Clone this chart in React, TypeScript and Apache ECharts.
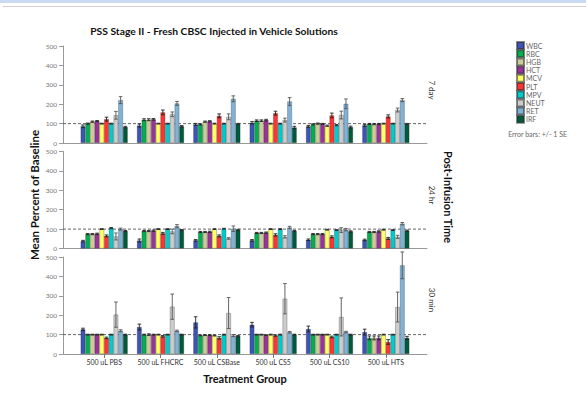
import React, { useEffect, useRef } from "react";
import * as echarts from "echarts";

const groups = ["500 uL PBS", "500 uL FHCRC", "500 uL CSBase", "500 uL CS5", "500 uL CS10", "500 uL HTS"];
const measures = ["WBC", "RBC", "HGB", "HCT", "MCV", "PLT", "MPV", "NEUT", "RET", "IRF"];
const panelLabels = ["7 day", "24 hr", "30 min"];
const yTicks = [0, 100, 200, 300, 400, 500];
const baseline = 100;

// 7 day: rows = measures, cols = groups
const day7Values = [
  [86, 90, 96, 104, 86, 91],
  [100, 120, 96, 115, 96, 98],
  [110, 120, 110, 115, 100, 97],
  [113, 122, 112, 118, 98, 98],
  [100, 100, 100, 100, 89, 100],
  [123, 158, 140, 154, 142, 137],
  [100, 100, 100, 100, 92, 100],
  [143, 148, 135, 118, 144, 170],
  [221, 204, 228, 214, 202, 221],
  [82, 86, 98, 80, 82, 98],
];
const day7Errors = [
  [7, 8, 5, 6, 5, 5],
  [3, 5, 3, 4, 3, 3],
  [3, 5, 3, 4, 3, 3],
  [3, 4, 3, 4, 3, 3],
  [2, 2, 2, 2, 3, 2],
  [10, 12, 10, 10, 12, 8],
  [2, 2, 2, 2, 3, 2],
  [20, 12, 15, 10, 20, 10],
  [18, 10, 15, 20, 25, 8],
  [4, 4, 3, 6, 5, 3],
];

const hr24Values = [
  [38, 41, 42, 42, 45, 44],
  [74, 90, 85, 80, 74, 85],
  [74, 90, 85, 80, 74, 85],
  [76, 92, 86, 82, 74, 88],
  [100, 100, 100, 100, 97, 97],
  [65, 78, 65, 70, 60, 52],
  [105, 100, 102, 100, 95, 95],
  [62, 88, 52, 60, 95, 60],
  [100, 115, 102, 108, 97, 128],
  [90, 95, 96, 90, 88, 92],
];
const hr24Errors = [
  [4, 8, 4, 4, 4, 4],
  [3, 3, 3, 3, 3, 3],
  [3, 3, 3, 3, 3, 3],
  [3, 3, 3, 3, 3, 3],
  [2, 2, 2, 2, 2, 2],
  [5, 5, 5, 6, 5, 5],
  [3, 2, 2, 2, 2, 2],
  [18, 12, 4, 6, 12, 8],
  [5, 8, 14, 6, 6, 6],
  [3, 3, 3, 3, 3, 3],
];

const min30Values = [
  [127, 139, 163, 151, 129, 113],
  [100, 100, 96, 100, 100, 83],
  [100, 100, 97, 100, 100, 83],
  [100, 100, 97, 97, 100, 83],
  [100, 100, 95, 100, 100, 100],
  [83, 91, 83, 95, 88, 62],
  [100, 100, 100, 100, 100, 100],
  [203, 244, 211, 285, 191, 242],
  [120, 119, 95, 112, 113, 457],
  [100, 100, 92, 100, 100, 83],
];
const min30Errors = [
  [6, 15, 29, 12, 15, 15],
  [2, 2, 2, 2, 2, 10],
  [2, 4, 2, 2, 2, 10],
  [2, 2, 2, 2, 2, 10],
  [2, 2, 2, 2, 2, 2],
  [4, 4, 6, 3, 4, 12],
  [2, 2, 2, 2, 2, 2],
  [65, 65, 80, 78, 98, 77],
  [5, 4, 5, 4, 4, 69],
  [2, 2, 3, 2, 2, 8],
];

const colors = ["#3d53b5", "#00b050", "#cccc99", "#993399", "#ffff66", "#ff3333", "#00cccc", "#cccccc", "#7fb2d5", "#005a3c"];

const panels = [
  { values: day7Values, errors: day7Errors, top: 46 },
  { values: hr24Values, errors: hr24Errors, top: 151.5 },
  { values: min30Values, errors: min30Errors, top: 257 },
];
const panelH = 97;
const catGap = 0.165;

function buildOption() {
  const grid: any[] = [];
  const xAxis: any[] = [];
  const yAxis: any[] = [];
  const series: any[] = [];
  const font = "Lato";

  panels.forEach((p, pi) => {
    grid.push({ left: 63, width: 364, top: p.top, height: panelH });
    grid.push({ left: 76, width: 338, top: p.top, height: panelH });
    xAxis.push({
      gridIndex: 2 * pi, type: "value", min: 0, max: 1,
      axisLine: { show: true, onZero: false, lineStyle: { color: "#999", width: 1 } },
      axisTick: { show: false }, axisLabel: { show: false }, splitLine: { show: false },
    });
    xAxis.push({
      gridIndex: 2 * pi + 1, type: "category", data: groups,
      axisLine: { show: false },
      axisTick: { show: pi === 2, alignWithLabel: true, length: 4, lineStyle: { color: "#777" } },
      axisLabel: { show: pi === 2, interval: 0, fontSize: 7, color: "#333", margin: 4, fontFamily: font },
      splitLine: { show: false },
    });
    yAxis.push({
      gridIndex: 2 * pi, type: "value", min: yTicks[0], max: yTicks[yTicks.length - 1], interval: 100,
      axisLine: { show: true, lineStyle: { color: "#999" } },
      axisTick: { show: true, length: 4, lineStyle: { color: "#999" } },
      axisLabel: { fontSize: 6.5, color: "#777", margin: 6, fontFamily: font },
      splitLine: { show: false },
    });
    yAxis.push({ gridIndex: 2 * pi + 1, type: "value", min: 0, max: 500, show: false });

    series.push({
      type: "line", name: "baseline" + pi, xAxisIndex: 2 * pi, yAxisIndex: 2 * pi,
      data: [[0, baseline], [1, baseline]], symbol: "none", silent: true, z: 1,
      lineStyle: { type: [3, 2], color: "#666", width: 1 },
    });
    measures.forEach((m, si) => {
      series.push({
        type: "bar", name: m, xAxisIndex: 2 * pi + 1, yAxisIndex: 2 * pi + 1,
        data: p.values[si], barGap: "0%", barCategoryGap: catGap * 100 + "%", z: 2,
        itemStyle: { color: colors[si], borderColor: "rgba(40,40,40,0.55)", borderWidth: 0.5 },
      });
    });
    const errData: number[][] = [];
    measures.forEach((m, si) => {
      groups.forEach((g, gi) => {
        errData.push([gi, si, p.values[si][gi], p.errors[si][gi]]);
      });
    });
    series.push({
      type: "custom", name: "err" + pi, xAxisIndex: 2 * pi + 1, yAxisIndex: 2 * pi + 1,
      data: errData, encode: { x: 0, y: 2 }, z: 3, silent: true,
      renderItem: (params: any, api: any) => {
        const cat = api.value(0);
        const s = api.value(1);
        const v = api.value(2);
        const e = api.value(3);
        const band = api.size([1, 0])[0];
        const bw = (band * (1 - catGap)) / 10;
        const cx = api.coord([cat, v])[0] + (s - 4.5) * bw;
        const yT = api.coord([cat, v + e])[1];
        const yB = api.coord([cat, v - e])[1];
        const cap = 1.8;
        const st = { stroke: s === 7 || s === 8 ? "#555" : "#222", lineWidth: 0.9 };
        return {
          type: "group",
          children: [
            { type: "line", shape: { x1: cx, y1: yT, x2: cx, y2: yB }, style: st },
            { type: "line", shape: { x1: cx - cap, y1: yT, x2: cx + cap, y2: yT }, style: st },
            { type: "line", shape: { x1: cx - cap, y1: yB, x2: cx + cap, y2: yB }, style: st },
          ],
        };
      },
    });
  });

  const graphic: any[] = [
    { type: "rect", shape: { x: 0, y: 0, width: 586, height: 3 }, style: { fill: "#c9daf2" }, silent: true },
    { type: "line", shape: { x1: 3, y1: 6.5, x2: 586, y2: 6.5 }, style: { stroke: "#cfcfcf", lineWidth: 1 }, silent: true },
    {
      type: "text", x: 214, y: 31,
      style: { text: "PSS Stage II - Fresh CBSC Injected in Vehicle Solutions", font: "bold 10.3px Lato", fill: "#111", align: "center", verticalAlign: "middle" },
    },
    {
      type: "text", x: 34, y: 195, rotation: Math.PI / 2,
      style: { text: "Mean Percent of Baseline", font: "bold 11.5px Lato", fill: "#111", align: "center", verticalAlign: "middle" },
    },
    {
      type: "text", x: 245, y: 378,
      style: { text: "Treatment Group", font: "bold 11px Lato", fill: "#111", align: "center", verticalAlign: "middle" },
    },
    {
      type: "text", x: 448, y: 197, rotation: -Math.PI / 2,
      style: { text: "Post-Infusion Time", font: "bold 11px Lato", fill: "#111", align: "center", verticalAlign: "middle" },
    },
    {
      type: "text", x: 567, y: 134,
      style: { text: "Error bars: +/- 1 SE", font: "7px Lato", fill: "#666", align: "right", verticalAlign: "middle" },
    },
  ];
  const labelY = [90, 195, 300];
  panelLabels.forEach((t, i) => {
    graphic.push({
      type: "text", x: 432, y: labelY[i], rotation: -Math.PI / 2,
      style: { text: t, font: "8px Lato", fill: "#333", align: "center", verticalAlign: "middle" },
    });
  });

  return {
    animation: false,
    backgroundColor: "#fff",
    textStyle: { fontFamily: font },
    legend: {
      data: measures, orient: "vertical", left: 516, top: 41,
      itemWidth: 7, itemHeight: 7, itemGap: -0.8, icon: "rect", selectedMode: false, padding: 0,
      textStyle: { fontSize: 7, color: "#666", fontFamily: font, padding: [0, 0, 0, -3] },
    },
    grid, xAxis, yAxis, series, graphic,
  };
}

export default function App() {
  const ref = useRef<HTMLDivElement>(null);
  useEffect(() => {
    if (!ref.current) return;
    const chart = echarts.init(ref.current, null, { renderer: "svg" });
    chart.setOption(buildOption() as any);
    return () => chart.dispose();
  }, []);
  return <div ref={ref} style={{ position: "fixed", left: 0, top: 0, width: 586, height: 404, background: "#fff" }} />;
}
